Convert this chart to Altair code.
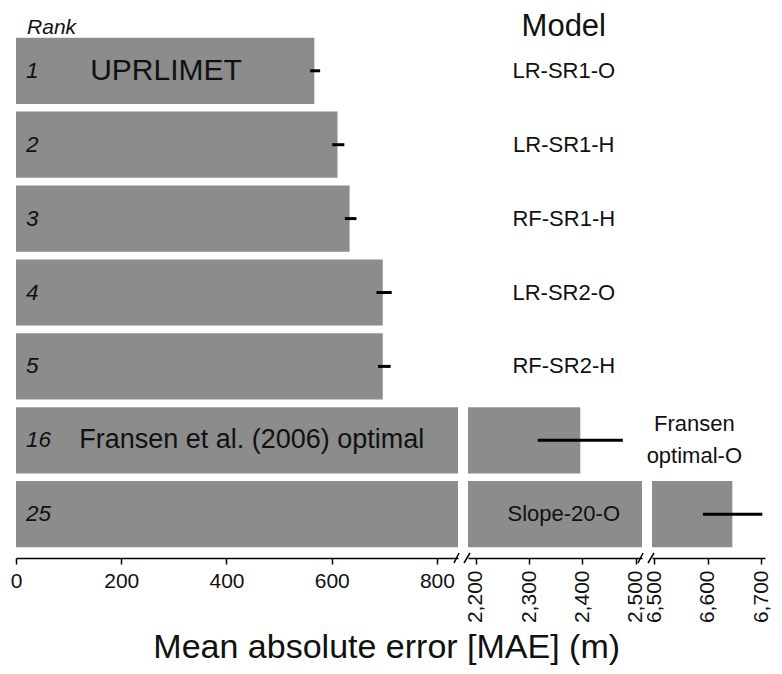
import altair as alt
import pandas as pd

# ---- data ----
ranks = ["1", "2", "3", "4", "5", "16", "25"]
mae = [567, 611, 634, 697, 697, 2396, 6646]
err_low = [559, 601, 625, 685, 688, 2316, 6591]
err_high = [578, 624, 647, 714, 712, 2476, 6702]
models = ["LR-SR1-O", "LR-SR1-H", "RF-SR1-H", "LR-SR2-O", "RF-SR2-H",
          "Fransen\noptimal-O", "Slope-20-O"]
model_panel = [2, 2, 2, 2, 2, 3, 2]
bar_label_ranks = ["1", "16"]
bar_labels = ["UPRLIMET", "Fransen et al. (2006) optimal"]

panel_domains = [[0, 840], [2185, 2512], [6496, 6707]]
panel_ticks = [[0, 200, 400, 600, 800],
               [2200, 2300, 2400, 2500],
               [6500, 6550, 6600, 6650, 6700]]

df = pd.DataFrame({"rank": ranks, "mae": mae, "lo": err_low, "hi": err_high,
                   "model": models, "panel": model_panel})
df["start"] = 0
lab_df = pd.DataFrame({"rank": bar_label_ranks, "label": bar_labels})

# ---- styling ----
FONT = "Liberation Sans"
BAR = "#8c8c8c"
INK = "#111111"
H = 531
WIDTHS = [442, 174, 113]

yenc = alt.Y("rank:N", sort=ranks, axis=None,
             scale=alt.Scale(domain=ranks, paddingInner=0.104, paddingOuter=0.1445))


def panel(i):
    dom = panel_domains[i]
    axis_kw = dict(values=panel_ticks[i], title=None, labelOverlap=False,
                   labelFlush=False, format=",d")
    if i > 0:
        axis_kw["labelAngle"] = 270
    if i == 2:
        axis_kw["labelExpr"] = "datum.value % 100 == 0 ? format(datum.value, ',d') : ''"
    xs = alt.Scale(domain=dom, zero=False, nice=False)
    base = alt.Chart(df)
    bars = base.mark_bar(clip=True, color=BAR).encode(
        x=alt.X("start:Q", scale=xs, axis=alt.Axis(**axis_kw)),
        x2="mae:Q",
        y=yenc,
    )
    err = base.mark_rule(clip=True, color="black", strokeWidth=3).encode(
        x="lo:Q", x2="hi:Q", y=yenc
    )
    layers = [bars, err]
    span = dom[1] - dom[0]
    px = span / WIDTHS[i]
    # axis break marks
    brk = []
    if i < 2:
        brk.append((dom[1] - 4 * px, dom[1] + 1 * px))
    if i > 0:
        brk.append((dom[0] - 4 * px, dom[0] + 2 * px))
    for a, b in brk:
        layers.append(
            alt.Chart(pd.DataFrame({"a": [a], "b": [b]})).mark_rule(
                color="black", strokeWidth=1.5).encode(
                x="a:Q", x2="b:Q", y=alt.value(H + 5), y2=alt.value(H - 5))
        )
    if i == 0:
        layers.append(base.mark_text(align="left", baseline="middle", font=FONT,
                                     fontStyle="italic", fontSize=22.5, color=INK).encode(
            x=alt.datum(19), y=yenc, text="rank:N"))
        layers.append(alt.Chart(lab_df[lab_df["rank"] == "1"]).mark_text(
            align="left", baseline="middle", font=FONT, fontSize=30, color=INK).encode(
            x=alt.datum(141), y=yenc, text="label:N"))
        layers.append(alt.Chart(lab_df[lab_df["rank"] == "16"]).mark_text(
            align="left", baseline="middle", font=FONT, fontSize=27, color=INK).encode(
            x=alt.datum(120), y=yenc, text="label:N"))
        layers.append(alt.Chart(pd.DataFrame({"t": ["Rank"]})).mark_text(
            align="left", baseline="alphabetic", font=FONT, fontStyle="italic",
            fontSize=21, color=INK).encode(
            x=alt.datum(21), y=alt.value(7), text="t:N"))
    if i == 1:
        layers.append(alt.Chart(df[df["panel"] == 2]).mark_text(
            align="center", baseline="middle", font=FONT, fontSize=22, color=INK).encode(
            x=alt.datum(2365), y=yenc, text="model:N"))
        layers.append(alt.Chart(pd.DataFrame({"t": ["Model"]})).mark_text(
            align="center", baseline="alphabetic", font=FONT, fontSize=31, color=INK).encode(
            x=alt.datum(2365), y=alt.value(8.5), text="t:N"))
    if i == 2:
        layers.append(alt.Chart(df[df["panel"] == 3]).mark_text(
            align="center", baseline="middle", font=FONT, fontSize=22, color=INK,
            lineBreak="\n", lineHeight=32, dy=-16).encode(
            x=alt.datum(6575), y=yenc, text="model:N"))
    return alt.layer(*layers).properties(width=WIDTHS[i], height=H)


chart = alt.hconcat(panel(0), panel(1), panel(2), spacing=10, bounds="flush").properties(
    title=alt.TitleParams("Mean absolute error [MAE] (m)", orient="bottom",
                          anchor="middle", fontSize=34, font=FONT,
                          fontWeight="normal", color=INK, dx=-4, offset=8),
    padding={"left": 2, "top": 2, "right": 0, "bottom": 0},
).configure_view(stroke=None).configure_axis(
    domainColor="black", domainWidth=1.5, tickColor="black", tickWidth=1.5,
    tickSize=6, labelColor=INK, labelFont=FONT, labelFontSize=21,
    labelPadding=6, grid=False,
)

chart.save("out.html", embed_options={"renderer": "svg", "actions": False})
